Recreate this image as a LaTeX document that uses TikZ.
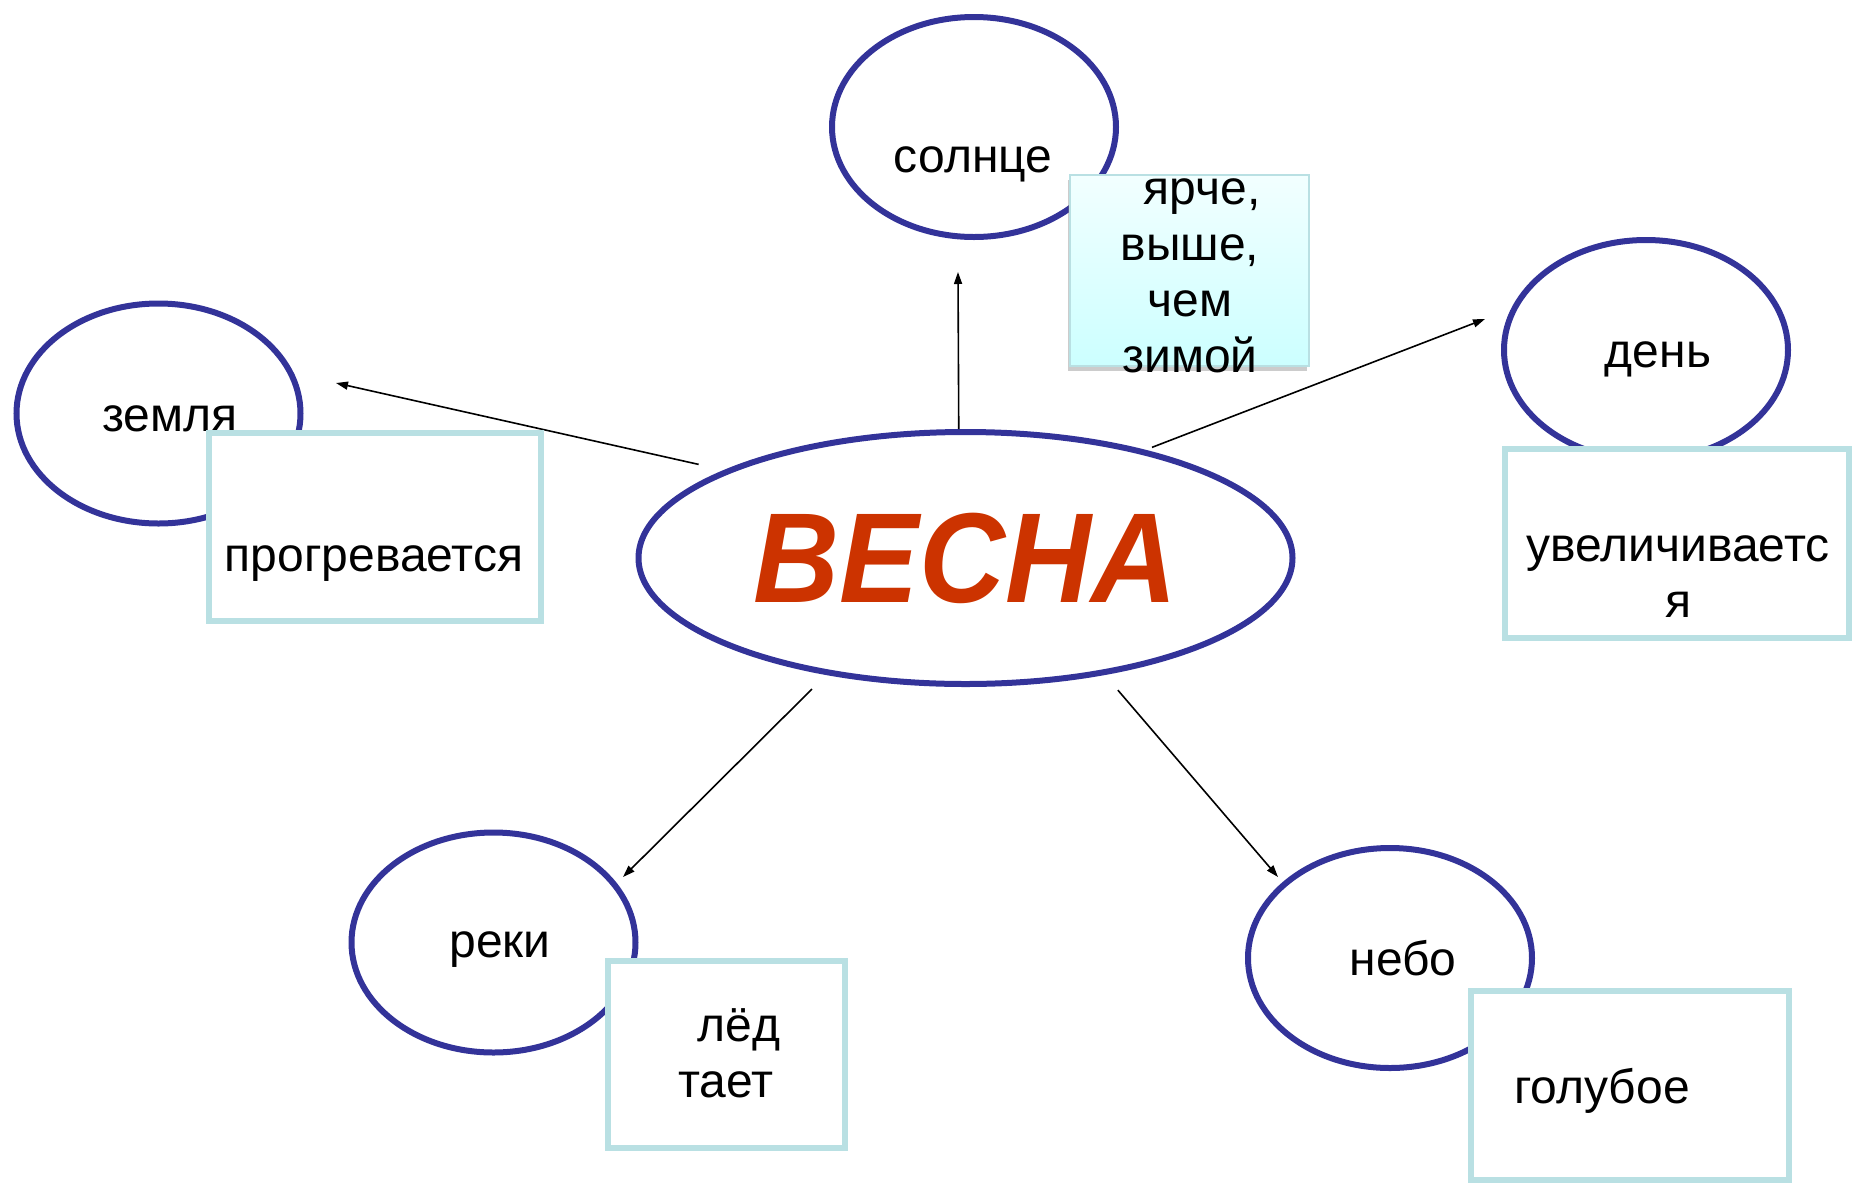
\documentclass[tikz,border=0pt]{standalone}
\usepackage{fontspec}
\setmainfont{Liberation Sans}
\usepackage{tikz}
\usetikzlibrary{shapes,arrows.meta,shadows}

\definecolor{ringblue}{RGB}{51,51,153}
\definecolor{boxteal}{RGB}{185,224,227}
\definecolor{springred}{RGB}{204,51,0}
\definecolor{icetop}{RGB}{242,255,255}
\definecolor{icebot}{RGB}{204,255,255}

\begin{document}
\begin{tikzpicture}[x=0.5pt, y=-0.5pt,
    ring/.style={ellipse, draw=ringblue, line width=3pt, fill=white, inner sep=0pt,
        minimum width=142pt, minimum height=110pt},
    tag/.style={rectangle, draw=boxteal, line width=3pt, fill=white, inner sep=0pt},
    word/.style={font=\fontsize{24}{28}\selectfont, inner sep=0pt, text height=12.5pt, text depth=0pt},
    lines/.style={font=\fontsize{24}{28}\selectfont, inner sep=0pt, align=center},
    link/.style={-{Triangle[length=6pt,width=4pt]}, line width=0.8pt}]

    \useasboundingbox (0,0) rectangle (1854,1184);

    % Centre: spring
    \node[ellipse, draw=ringblue, line width=3pt, inner sep=0pt,
        minimum width=327pt, minimum height=126pt,
        font=\fontsize{64}{64}\selectfont\bfseries\itshape, text=springred] (spring) at (965.5,558) {\scalebox{0.93}[1]{ВЕСНА}};

    % Arrow ends
    \coordinate (sunend) at (958,272);
    \coordinate (earthend) at (336,383);
    \coordinate (dayend) at (1485,319);
    \coordinate (riversend) at (623,877);
    \coordinate (skyend) at (1278,877);

    \draw[link] (spring.93) -- (sunend);
    \draw[link, shorten <=13pt] (spring.160) -- (earthend);
    \draw[link, shorten <=3.5pt] (spring.31) -- (dayend);
    \draw[link, shorten <=10pt] (spring.220) -- (riversend);
    \draw[link, shorten <=10pt] (spring.320) -- (skyend);

    % Sun
    \node[ring] (sun) at (974,127) {};
    \node[word] (sunt) at (973,160) {солнце};
    \node[rectangle, draw=boxteal, line width=1pt, inner sep=0pt,
        top color=icetop, bottom color=icebot,
        drop shadow={shadow xshift=-1pt, shadow yshift=-2.5pt, opacity=0.4},
        minimum width=119.5pt, minimum height=95.5pt] (bright) at (1189.5,270.5) {};
    \node[lines] (brightt) at (1190,276) {\hspace*{0.5em}ярче,\\выше,\\чем\\зимой};

    % Earth
    \node[ring] (earth) at (158.5,413.5) {};
    \node[word] (eartht) at (170,419) {земля};
    \node[tag, minimum width=166pt, minimum height=94pt] (warm) at (374.5,526.5) {};
    \node[word] (warmt) at (374,559) {прогревается};

    % Day
    \node[ring] (day) at (1646,350) {};
    \node[word] (dayt) at (1658,355) {день};
    \node[tag, minimum width=172pt, minimum height=94.5pt] (longer) at (1676.5,543) {};
    \node[lines] (longert) at (1678,577) {увеличиваетс\\я};

    % Rivers
    \node[ring] (rivers) at (493.5,942.5) {};
    \node[word] (riverst) at (500,945) {реки};
    \node[tag, minimum width=118.5pt, minimum height=93.5pt] (ice) at (726,1054) {};
    \node[lines] (icet) at (726,1053) {\hspace*{0.55em}лёд\\тает};

    % Sky
    \node[ring] (sky) at (1390,958) {};
    \node[word] (skyt) at (1403,963) {небо};
    \node[tag, minimum width=159pt, minimum height=94.5pt] (skybox) at (1629.5,1085) {};
    \node[word] (skyboxt) at (1602,1091) {голубое};
\end{tikzpicture}
\end{document}
